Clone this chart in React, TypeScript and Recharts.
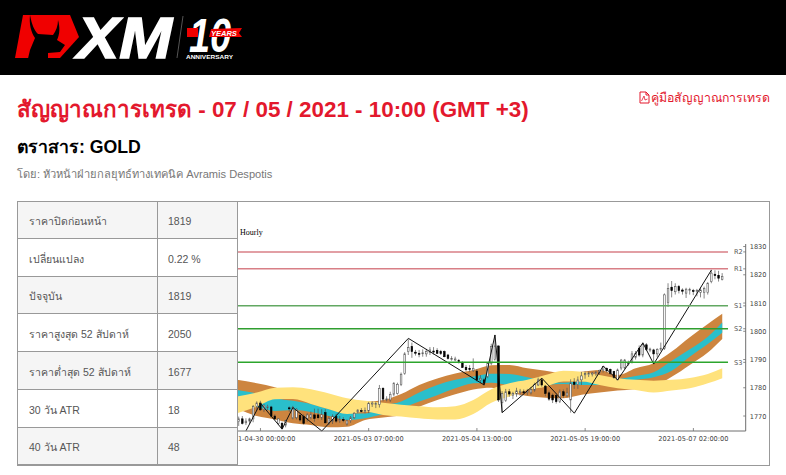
import React from 'react';
import {
  ComposedChart,
  Area,
  Bar,
  Line,
  XAxis,
  YAxis,
  ReferenceLine,
} from 'recharts';

const opens = [
  1768.0, 1769, 1767.6, 1768.2, 1769, 1773.4, 1774.6, 1772.2, 1773, 1773.2,
  1770, 1767.4, 1767.4, 1766.8, 1772.9, 1769.2, 1769.4, 1770.2, 1769.8, 1769.2,
  1769.4, 1770.4, 1770.4, 1769.4, 1771.2, 1767.6, 1768.2, 1769.8, 1768.6, 1768.8,
  1767.2, 1768.4, 1769.4, 1771.4, 1771.9, 1771.8, 1771.8, 1774.4, 1774.4, 1774.1,
  1779.8, 1776, 1775.7, 1777.7, 1778, 1781.2, 1785.1, 1792.8, 1794.6, 1792.6,
  1792.2, 1792.3, 1792, 1792.5, 1793, 1793.2, 1792.8, 1792.8, 1791.6, 1790.4,
  1790.2, 1789.6, 1788.9, 1787.2, 1786.8, 1786.1, 1785.9, 1782.8, 1782.8, 1784,
  1788.7, 1790, 1794.8, 1774.7, 1775.5, 1778.6, 1777.4, 1777.8, 1778.4, 1778.6,
  1778.6, 1778.2, 1779.2, 1781, 1782.8, 1780.6, 1778.2, 1777.4, 1777.2, 1775.1,
  1778.6, 1777.2, 1775.7, 1782, 1781.2, 1782.8, 1784.6, 1784.8, 1785, 1785.2,
  1785.4, 1786.3, 1786.9, 1786.5, 1785.7, 1782.8, 1787, 1787, 1788.6, 1789.3,
  1790.8, 1794, 1791.6, 1795.2, 1793.5, 1793.4, 1792, 1793.8, 1794, 1810.2,
  1815.6, 1814, 1815.8, 1814.6, 1813.5, 1814.6, 1814.4, 1814.2, 1813.8, 1813.7,
  1813.7, 1817.6, 1820.2, 1819.8, 1818.4,
];
const highs = [
  1769.8, 1770, 1769.2, 1769.4, 1773.9, 1775.2, 1775.4, 1774, 1774, 1773.6,
  1770.6, 1769.2, 1768, 1768.6, 1773.4, 1773.6, 1772.8, 1771, 1770.6, 1771,
  1771.6, 1772.6, 1772.6, 1772.4, 1772.4, 1770, 1770.6, 1770.8, 1770, 1769.6,
  1768.8, 1770, 1771.4, 1772.4, 1772.8, 1773, 1775, 1775.2, 1775, 1781,
  1780.2, 1777, 1778.6, 1782, 1781.8, 1785.4, 1792.6, 1797.2, 1796, 1793.4,
  1793.4, 1793.6, 1793.8, 1794.4, 1794.4, 1794, 1793.4, 1793.2, 1792, 1791.2,
  1791, 1790.2, 1789.4, 1788, 1788, 1790.4, 1786.6, 1784.5, 1783.5, 1788.9,
  1795.6, 1798.7, 1795, 1778.8, 1779.6, 1779.6, 1778.6, 1780, 1779.6, 1779.4,
  1779.6, 1780.2, 1781.8, 1783.6, 1783.4, 1781, 1779, 1778, 1778, 1779.4,
  1779.4, 1780, 1783, 1783.4, 1784, 1785.6, 1785.8, 1785.8, 1785.6, 1786,
  1786.4, 1787.7, 1787.2, 1786.8, 1786, 1786.8, 1790.2, 1790.2, 1789.6, 1793,
  1793, 1795, 1796, 1795.8, 1794.2, 1793.8, 1794, 1796, 1813.4, 1817,
  1817.8, 1817, 1816.4, 1815.2, 1815.4, 1815.4, 1815, 1815, 1815.6, 1815.8,
  1817.4, 1821.8, 1821.6, 1821.4, 1820.6,
];
const lows = [
  1766.5, 1767, 1766.8, 1767.2, 1767.8, 1772, 1771.8, 1771.4, 1772, 1769.6,
  1768.8, 1766.8, 1765.2, 1766, 1771.5, 1768.8, 1768.8, 1768, 1767, 1768,
  1768.8, 1768, 1768.8, 1768.6, 1767.4, 1766.8, 1767.2, 1767.6, 1767.6, 1767.8,
  1766.6, 1767.6, 1769, 1771, 1771.3, 1771, 1771, 1773.2, 1772.8, 1773,
  1775.2, 1775.2, 1775, 1777, 1777.6, 1780.6, 1784.6, 1791.6, 1790.6, 1791.4,
  1790.8, 1791, 1791, 1791.6, 1791.8, 1792, 1791.6, 1790.8, 1790, 1789.6,
  1789.4, 1788.6, 1787, 1785.8, 1785.6, 1785.6, 1782.2, 1781.6, 1780.8, 1783.4,
  1788, 1789.6, 1775, 1771.2, 1775, 1776.8, 1776, 1776.8, 1777.2, 1777.6,
  1777.4, 1777.6, 1778.6, 1780.6, 1780.4, 1777, 1775.4, 1774.6, 1774.4, 1774.6,
  1776.4, 1776.6, 1771.2, 1779.6, 1779.6, 1781, 1783.2, 1783.8, 1784, 1784.2,
  1784.6, 1785.4, 1785.4, 1784.6, 1783.2, 1782.8, 1786.2, 1786.6, 1787.8, 1788.6,
  1790, 1791, 1790.8, 1793, 1792.6, 1788.4, 1790.8, 1793, 1793.4, 1808.6,
  1812, 1813, 1813.4, 1813, 1811.8, 1813, 1812.8, 1812.4, 1812, 1811.6,
  1813, 1817, 1818.4, 1817.6, 1818,
];
const closes = [
  1769, 1767.4, 1768.2, 1769, 1773.4, 1774.6, 1772.2, 1773.9, 1773.3, 1770,
  1769, 1769, 1765.7, 1768.4, 1772.6, 1773, 1772.4, 1768.6, 1767.4, 1770.4,
  1770.6, 1769.2, 1769.4, 1770.6, 1767.6, 1769.2, 1769.8, 1768.2, 1768.8, 1768.4,
  1768.3, 1769.4, 1771, 1772.1, 1771.8, 1771.9, 1774.5, 1774.6, 1774.5, 1779.8,
  1776, 1776.1, 1777.7, 1781.6, 1781.2, 1784.8, 1792, 1794.2, 1792.8, 1792.4,
  1792.1, 1792.4, 1792.9, 1793.4, 1792.8, 1792.2, 1792.1, 1791, 1790.4, 1790.4,
  1790.2, 1789.4, 1787.2, 1786.4, 1786.6, 1786.9, 1782.8, 1783.3, 1781.6, 1788.7,
  1794.6, 1794.8, 1775.7, 1778, 1778.6, 1777.8, 1778, 1778.9, 1778.8, 1778.4,
  1778.8, 1779.4, 1781.2, 1782.8, 1781, 1778, 1776, 1775.7, 1775.1, 1778.6,
  1777.2, 1778.2, 1781.6, 1781.2, 1782.8, 1784.2, 1785, 1785, 1785.2, 1785.4,
  1786.2, 1787.5, 1786, 1785.1, 1783.7, 1786.3, 1789.8, 1789.8, 1788.8, 1792,
  1792.2, 1791.6, 1795.4, 1793.6, 1793.7, 1792, 1793.6, 1794, 1812.9, 1815.2,
  1814.4, 1815.8, 1814.4, 1814.2, 1814.9, 1814.8, 1814.2, 1814.4, 1814.6, 1815.2,
  1817, 1820.6, 1819.7, 1818.8, 1819.4,
];

// band samples, read every five bars
const bandBars = [
  -0.5, 5, 10, 15, 20, 25, 30, 35, 40, 45, 50, 55, 60, 65, 70, 75, 80, 85, 90, 95,
  100, 105, 110, 115, 120, 125, 130, 134,
];
const orangeTop = [
  1782.8, 1781.6, 1780.2, 1778, 1777.4, 1776.3, 1775.4, 1775.1, 1775.7, 1777.8,
  1781, 1783.3, 1785.1, 1786.3, 1788, 1788.1, 1786.9, 1786, 1785.1, 1785.7,
  1786.3, 1784.5, 1786.9, 1788.7, 1792.8, 1797.9, 1802.6, 1806.2,
];
const tealTop = [
  1779.2, 1778, 1776.3, 1775.4, 1774.3, 1772.4, 1771.2, 1770.9, 1773.5, 1775.1,
  1778.3, 1781, 1782.8, 1784, 1785, 1784.9, 1783.7, 1782.2, 1781.8, 1782.2,
  1782.2, 1783, 1784.2, 1785.5, 1789.6, 1793.6, 1798.1, 1803.1,
];
const tealBottom = [
  1776.3, 1773.3, 1771.8, 1772.1, 1771.4, 1770, 1768.6, 1769.2, 1770.7, 1772.7,
  1775.1, 1777.4, 1779.8, 1781.6, 1781.8, 1781, 1780.9, 1781, 1781.3, 1781,
  1781, 1781.6, 1782.8, 1783.7, 1786, 1791, 1795.5, 1799.5,
];
const orangeBottom = [
  1772.7, 1770, 1768.8, 1767.4, 1766.8, 1766, 1766.2, 1768.6, 1769.5, 1770.4,
  1773.3, 1775.7, 1777.7, 1779.4, 1780, 1778.3, 1777.1, 1776.5, 1776.3, 1777.5,
  1778.3, 1779, 1779.6, 1780.6, 1783.9, 1788.1, 1792.5, 1797.3,
];
const yellowTop = [
  1776.9, 1778.3, 1780, 1780.2, 1779.5, 1778, 1776.3, 1775.4, 1774.7, 1774,
  1773.5, 1773.1, 1773.5, 1775.7, 1779.5, 1781.6, 1782.8, 1784.5, 1786, 1785.7,
  1784.5, 1783.4, 1782.8, 1782.5, 1782.8, 1783.5, 1784.9, 1786.9,
];
const yellowBottom = [
  1771, 1773.3, 1775.9, 1776, 1774.3, 1772.4, 1770.7, 1771.5, 1770.4, 1769.8,
  1769.2, 1768.8, 1768.8, 1770.7, 1774.7, 1776.9, 1779.2, 1780.4, 1782.2, 1782.2,
  1781, 1779.8, 1779.2, 1778.3, 1779, 1779.8, 1781.6, 1783.4,
];

const zigzagBars = [2, 6, 12, 15, 23, 47, 68, 71, 73, 84, 93, 101, 105, 112, 115, 131];
const zigzagValues = [
  1764.8, 1774.5, 1765.4, 1773, 1764.7, 1797.5, 1781, 1798.7, 1771.2, 1783.4, 1771,
  1787.7, 1782.8, 1795.9, 1788.4, 1821.7,
];

const levelNames = ['R2', 'R1', 'S1', 'S2', 'S3'];
const levelValues = [1828.1, 1822.1, 1809, 1800.9, 1789];
const levelColors = ['#d87f86', '#d87f86', '#62a862', '#2f9e2f', '#2ca52c'];

const priceTicks = [1770, 1780, 1790, 1800, 1810, 1820, 1830];
const timeTicks = [6, 36, 66, 96, 126];
const timeLabels = [
  '2021-04-30 00:00:00',
  '2021-05-03 07:00:00',
  '2021-05-04 13:00:00',
  '2021-05-05 19:00:00',
  '2021-05-07 02:00:00',
];

const infoLabels = [
  'ราคาปิดก่อนหน้า',
  'เปลี่ยนแปลง',
  'ปัจจุบัน',
  'ราคาสูงสุด 52 สัปดาห์',
  'ราคาต่ำสุด 52 สัปดาห์',
  '30 วัน ATR',
  '40 วัน ATR',
];
const infoValues = ['1819', '0.22 %', '1819', '2050', '1677', '18', '48'];
const rowTops = [201, 239, 277, 314, 352, 390, 428, 465];

const candles = opens.map((open, i) => ({
  bar: i,
  open,
  close: closes[i],
  range: [lows[i], highs[i]],
}));
const bands = bandBars.map((bar, i) => ({
  bar,
  orange: [orangeBottom[i], orangeTop[i]],
  teal: [tealBottom[i], tealTop[i]],
  yellow: [yellowBottom[i], yellowTop[i]],
}));
const zigzag = zigzagBars.map((bar, i) => ({ bar, value: zigzagValues[i] }));

const sans = '"Liberation Sans", Arial, sans-serif';
const axisColor = '#6e6e6e';

function Candle(props: any) {
  const { x, y, width, height, payload } = props;
  const [low, high] = payload.range;
  const perUnit = height / (high - low);
  const top = y + (high - Math.max(payload.open, payload.close)) * perUnit;
  const bodyHeight = Math.max(Math.abs(payload.open - payload.close) * perUnit, 1);
  const up = payload.close >= payload.open;
  const mid = x + width / 2;
  return (
    <g>
      <line x1={mid} x2={mid} y1={y} y2={y + height} stroke="#555" strokeWidth={0.7} />
      <rect
        x={x}
        y={top}
        width={width}
        height={bodyHeight}
        fill={up ? '#fff' : '#000'}
        stroke={up ? '#555' : '#000'}
        strokeWidth={0.6}
      />
    </g>
  );
}

function PriceTick(props: any) {
  const { x, y, payload } = props;
  return (
    <g>
      <line x1={x - 2.5} x2={x} y1={y} y2={y} stroke={axisColor} strokeWidth={0.8} />
      {priceTicks.includes(payload.value) && (
        <text x={x + 4} y={y + 2.5} fontSize={6.6} fontFamily="DejaVu Sans" fill="#444">
          {payload.value}
        </text>
      )}
    </g>
  );
}

function TimeTick(props: any) {
  const { x, y, payload } = props;
  return (
    <g>
      <line x1={x} x2={x} y1={y - 3} y2={y} stroke={axisColor} strokeWidth={0.8} />
      <text
        x={x}
        y={y + 9.5}
        textAnchor="middle"
        fontSize={6.6}
        fontFamily="DejaVu Sans"
        fill="#444"
      >
        {timeLabels[timeTicks.indexOf(payload.value)]}
      </text>
    </g>
  );
}

function Logo() {
  return (
    <svg width={260} height={75} style={{ position: 'absolute', left: 0, top: 0 }}>
      <polygon points="15,58 23,15 70,15 79,37 60,58" fill="#f00000" />
      <path
        d="M30,15 C32,25 34,30 38,34 L53,35 C56,31 58,26 58,20 C60,27 60,34 57,40 L65,45 L60,52 L48,53 L48,58.5 L28,58.5 L30,50 L35,38 C31,32 29,24 30,15 Z"
        fill="#000"
      />
      <text
        x={77}
        y={57.5}
        fontFamily={sans}
        fontWeight="bold"
        fontStyle="italic"
        fontSize={57}
        fill="#fff"
        stroke="#fff"
        strokeWidth={1.5}
        textLength={95}
        lengthAdjust="spacingAndGlyphs"
      >
        XM
      </text>
      <line x1={183} y1={16} x2={177} y2={58} stroke="#555" strokeWidth={1} />
      <text
        x={189}
        y={52}
        fontFamily={sans}
        fontWeight="bold"
        fontStyle="italic"
        fontSize={48}
        fill="#fff"
        textLength={42}
        lengthAdjust="spacingAndGlyphs"
      >
        10
      </text>
      <polygon points="187,28 198,28 198,37 187,37" fill="#f00000" />
      <polygon points="211,29 242,28 239,33 242,37 209,37" fill="#f00000" />
      <text
        x={211}
        y={36}
        fontFamily={sans}
        fontWeight="bold"
        fontStyle="italic"
        fontSize={7.5}
        fill="#fff"
      >
        YEARS
      </text>
      <text
        x={186}
        y={58.5}
        fontFamily={sans}
        fontWeight="bold"
        fontSize={6}
        fill="#fff"
        textLength={47}
        lengthAdjust="spacingAndGlyphs"
      >
        ANNIVERSARY
      </text>
    </svg>
  );
}

export default function App() {
  return (
    <div
      style={{
        position: 'absolute',
        left: 0,
        top: 0,
        width: 786,
        height: 475,
        background: '#fff',
        overflow: 'hidden',
        fontFamily: sans,
      }}
    >
      <div style={{ position: 'absolute', left: 0, top: 0, width: 786, height: 75, background: '#000' }} />
      <Logo />

      <div
        style={{
          position: 'absolute',
          left: 17,
          top: 91,
          fontSize: 22.4,
          fontWeight: 'bold',
          color: '#e3182d',
          whiteSpace: 'nowrap',
        }}
      >
        สัญญาณการเทรด - 07 / 05 / 2021 - 10:00 (GMT +3)
      </div>
      <div
        style={{
          position: 'absolute',
          left: 638,
          top: 88,
          fontSize: 12.35,
          color: '#e3182d',
          whiteSpace: 'nowrap',
        }}
      >
        <svg width={12} height={13} style={{ verticalAlign: -2, marginRight: 1 }}>
          <path d="M2,1 H8 L11,4 V12 H2 Z M8,1 V4 H11" fill="none" stroke="#e3182d" strokeWidth={1} />
          <path d="M3.5,10 L6,5 L7,9 L9.5,8" fill="none" stroke="#e3182d" strokeWidth={0.8} />
        </svg>
        คู่มือสัญญาณการเทรด
      </div>
      <div
        style={{
          position: 'absolute',
          left: 17,
          top: 133,
          fontSize: 17.7,
          fontWeight: 'bold',
          color: '#000',
          whiteSpace: 'nowrap',
        }}
      >
        ตราสาร: GOLD
      </div>
      <div
        style={{
          position: 'absolute',
          left: 17,
          top: 165,
          fontSize: 11.1,
          color: '#777',
          whiteSpace: 'nowrap',
        }}
      >
        โดย: หัวหน้าฝ่ายกลยุทธ์ทางเทคนิค Avramis Despotis
      </div>

      {infoLabels.map((label, i) => (
        <React.Fragment key={label}>
          <div
            style={{
              position: 'absolute',
              left: 17,
              top: rowTops[i],
              width: 220,
              height: rowTops[i + 1] - rowTops[i],
              background: i % 2 === 0 ? '#f5f5f5' : '#fff',
              boxSizing: 'border-box',
              borderBottom: '1px solid #999',
            }}
          />
          <div
            style={{
              position: 'absolute',
              left: 29,
              top: (rowTops[i] + rowTops[i + 1]) / 2 - 7.5,
              fontSize: 10.5,
              lineHeight: '16px',
              color: '#555',
              whiteSpace: 'nowrap',
            }}
          >
            {label}
          </div>
          <div
            style={{
              position: 'absolute',
              left: 168,
              top: (rowTops[i] + rowTops[i + 1]) / 2 - 7.5,
              fontSize: 10.5,
              lineHeight: '16px',
              color: '#555',
              whiteSpace: 'nowrap',
            }}
          >
            {infoValues[i]}
          </div>
        </React.Fragment>
      ))}

      <div style={{ position: 'absolute', left: 237, top: 202 }}>
        <ComposedChart
          width={532}
          height={263}
          data={candles}
          margin={{ top: 42, right: 0, bottom: 14, left: 0 }}
        >
          <XAxis
            type="number"
            dataKey="bar"
            domain={[-0.5, 140.5]}
            ticks={timeTicks}
            interval={0}
            height={20}
            stroke={axisColor}
            tickSize={0}
            tickMargin={0}
            tick={(p: any) => <TimeTick {...p} />}
          />
          <YAxis
            type="number"
            orientation="right"
            domain={[1764.7, 1830.9]}
            ticks={[...priceTicks, ...levelValues]}
            interval={0}
            width={23.3}
            stroke={axisColor}
            tickSize={0}
            tickMargin={0}
            tick={(p: any) => <PriceTick {...p} />}
          />
          <Area
            data={bands}
            dataKey="orange"
            type="monotone"
            fill="#cd853f"
            fillOpacity={1}
            stroke="none"
            isAnimationActive={false}
          />
          <Area
            data={bands}
            dataKey="teal"
            type="monotone"
            fill="#2abfcb"
            fillOpacity={1}
            stroke="none"
            isAnimationActive={false}
          />
          <Area
            data={bands}
            dataKey="yellow"
            type="monotone"
            fill="#ffe27c"
            fillOpacity={1}
            stroke="none"
            isAnimationActive={false}
          />
          <Bar
            dataKey="range"
            barSize={2.4}
            isAnimationActive={false}
            shape={(p: any) => <Candle {...p} />}
          />
          <Line
            data={zigzag}
            dataKey="value"
            type="linear"
            stroke="#111"
            strokeWidth={1}
            dot={false}
            isAnimationActive={false}
          />
          {levelNames.map((name, i) => (
            <ReferenceLine
              key={name}
              segment={[
                { x: -0.5, y: levelValues[i] },
                { x: 135.6, y: levelValues[i] },
              ]}
              stroke={levelColors[i]}
              strokeWidth={1.5}
              label={{
                value: name,
                position: 'right',
                offset: 6,
                fontSize: 6.6,
                fontFamily: 'DejaVu Sans',
                fill: '#555',
              }}
            />
          ))}
        </ComposedChart>
      </div>

      <div
        style={{
          position: 'absolute',
          left: 240,
          top: 228,
          fontSize: 8,
          lineHeight: '10px',
          fontFamily: '"Liberation Serif", serif',
          color: '#000',
        }}
      >
        Hourly
      </div>

      <div
        style={{
          position: 'absolute',
          left: 17,
          top: 201,
          width: 753,
          height: 265,
          boxSizing: 'border-box',
          border: '1px solid #999',
          pointerEvents: 'none',
        }}
      />
      <div style={{ position: 'absolute', left: 157, top: 201, width: 1, height: 265, background: '#999' }} />
      <div style={{ position: 'absolute', left: 237, top: 201, width: 1, height: 265, background: '#999' }} />
    </div>
  );
}
